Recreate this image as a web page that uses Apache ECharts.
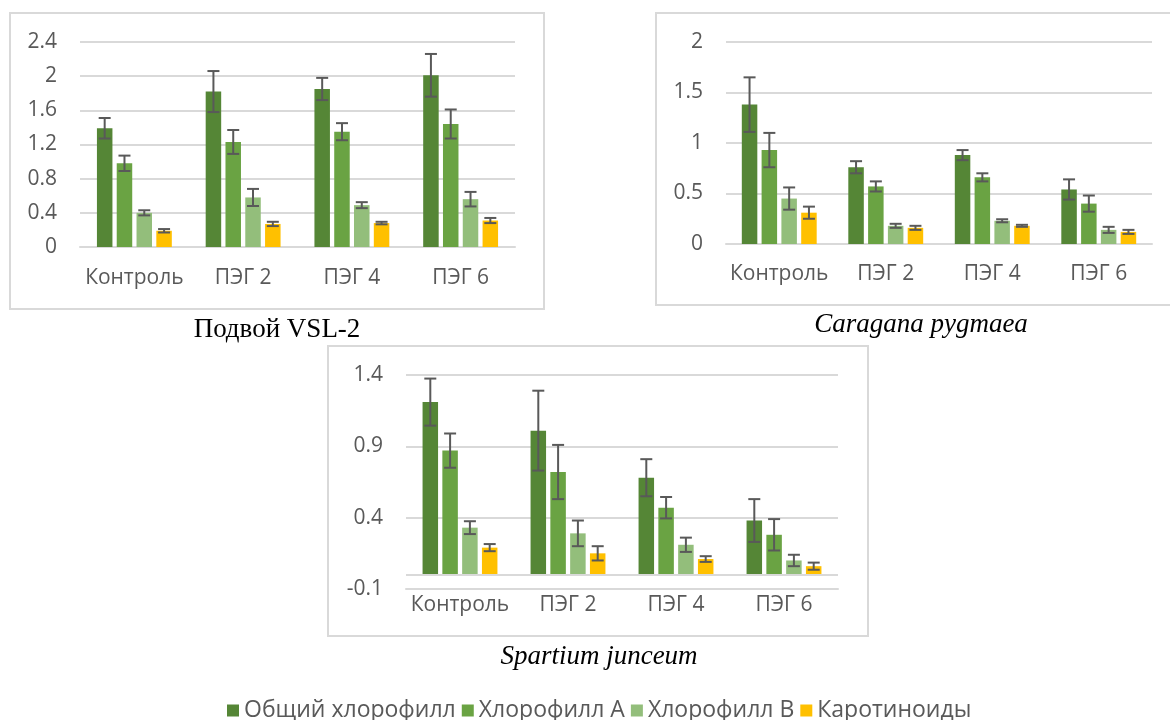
<!DOCTYPE html>
<html>
<head>
<meta charset="utf-8">
<script src="https://cdn.jsdelivr.net/npm/echarts@6.0.0/dist/echarts.min.js"></script>
<style>
  html, body { margin: 0; padding: 0; background: #fff; }
  #chart { width: 1170px; height: 720px; }
</style>
</head>
<body>
<div id="chart"></div>
<script>
// категории и серии
const categories = ['Контроль', 'ПЭГ 2', 'ПЭГ 4', 'ПЭГ 6'];
const seriesNames = ['Общий хлорофилл', 'Хлорофилл А', 'Хлорофилл В', 'Каротиноиды'];
const colors = ['#558636', '#6aa343', '#93be7b', '#ffc000'];

// Подвой VSL-2
const vslTotal = [1.39, 1.82, 1.85, 2.01];
const vslA = [0.98, 1.23, 1.35, 1.44];
const vslB = [0.40, 0.58, 0.49, 0.56];
const vslCar = [0.19, 0.27, 0.28, 0.31];
const vslTotalErr = [0.12, 0.24, 0.13, 0.25];
const vslAErr = [0.09, 0.14, 0.10, 0.17];
const vslBErr = [0.03, 0.10, 0.035, 0.085];
const vslCarErr = [0.02, 0.025, 0.015, 0.03];

// Caragana pygmaea
const carTotal = [1.38, 0.76, 0.88, 0.54];
const carA = [0.93, 0.57, 0.66, 0.40];
const carB = [0.45, 0.18, 0.23, 0.14];
const carCar = [0.31, 0.16, 0.18, 0.12];
const carTotalErr = [0.27, 0.06, 0.05, 0.10];
const carAErr = [0.17, 0.05, 0.04, 0.08];
const carBErr = [0.11, 0.02, 0.015, 0.03];
const carCarErr = [0.06, 0.02, 0.01, 0.02];

// Spartium junceum
const spTotal = [1.21, 1.01, 0.68, 0.38];
const spA = [0.87, 0.72, 0.47, 0.28];
const spB = [0.33, 0.29, 0.21, 0.10];
const spCar = [0.19, 0.15, 0.11, 0.06];
const spTotalErr = [0.165, 0.28, 0.13, 0.15];
const spAErr = [0.12, 0.19, 0.075, 0.11];
const spBErr = [0.045, 0.09, 0.05, 0.04];
const spCarErr = [0.025, 0.05, 0.02, 0.025];

// оси Y
const yTicks1 = { min: 0, max: 2.4, interval: 0.4 };
const yTicks2 = { min: 0, max: 2, interval: 0.5 };
const yTicks3 = { min: -0.1, max: 1.4, interval: 0.5 };

const panels = [
  { vals: [vslTotal, vslA, vslB, vslCar], errs: [vslTotalErr, vslAErr, vslBErr, vslCarErr], y: yTicks1,
    grid: { left: 80, top: 42, width: 435, height: 205 }, labelMargin: 21 },
  { vals: [carTotal, carA, carB, carCar], errs: [carTotalErr, carAErr, carBErr, carCarErr], y: yTicks2,
    grid: { left: 726, top: 42, width: 426, height: 202 }, labelMargin: 20 },
  { vals: [spTotal, spA, spB, spCar], errs: [spTotalErr, spAErr, spBErr, spCarErr], y: yTicks3,
    grid: { left: 406, top: 375, width: 432, height: 214 }, labelMargin: 6 }
];

const BAR_W = 15.5;
const BAR_GAP = 4.3;
const textColor = '#595959';
const lineColor = '#d9d9d9';
const font = '"Open Sans", sans-serif';

var myChart = echarts.init(document.getElementById('chart'), null, { renderer: 'canvas' });

const grids = [], xAxes = [], yAxes = [], series = [];

panels.forEach(function (p, gi) {
  grids.push(p.grid);
  xAxes.push({
    type: 'category', gridIndex: gi, data: categories,
    axisLine: { show: true, onZero: false, lineStyle: { color: lineColor, width: 2 } },
    axisTick: { show: false },
    axisLabel: { interval: 0, color: textColor, fontSize: 21, fontFamily: font, margin: p.labelMargin }
  });
  yAxes.push({
    type: 'value', gridIndex: gi, min: p.y.min, max: p.y.max, interval: p.y.interval,
    axisLine: { show: false }, axisTick: { show: false },
    splitLine: { lineStyle: { color: lineColor, width: 2 } },
    axisLabel: {
      color: textColor, fontSize: 21, fontFamily: font, margin: 23,
      formatter: function (v) { return String(+v.toFixed(2)); }
    }
  });

  p.vals.forEach(function (vals, si) {
    const s = {
      name: seriesNames[si], type: 'bar', xAxisIndex: gi, yAxisIndex: gi,
      data: vals, barWidth: BAR_W, barGap: (BAR_GAP / BAR_W * 100).toFixed(1) + '%',
      itemStyle: { color: colors[si] }, emphasis: { disabled: true }
    };
    if (gi === 2 && si === 0) {
      s.markLine = {
        silent: true, symbol: ['none', 'none'], label: { show: false },
        lineStyle: { color: lineColor, width: 2, type: 'solid' },
        data: [{ yAxis: 0 }]
      };
    }
    series.push(s);
  });

  // планки погрешностей
  const errData = [];
  p.vals.forEach(function (vals, si) {
    vals.forEach(function (v, ci) {
      errData.push([ci, si, v - p.errs[si][ci], v + p.errs[si][ci]]);
    });
  });
  series.push({
    name: 'err' + gi, type: 'custom', xAxisIndex: gi, yAxisIndex: gi, z: 10,
    encode: { x: 0, y: [2, 3] },
    data: errData,
    renderItem: function (params, api) {
      const ci = api.value(0), si = api.value(1);
      const total = 4 * BAR_W + 3 * BAR_GAP;
      const cx = api.coord([ci, 0])[0] - total / 2 + BAR_W / 2 + si * (BAR_W + BAR_GAP);
      const lo = api.coord([ci, api.value(2)])[1];
      const hi = api.coord([ci, api.value(3)])[1];
      const cap = 6;
      const st = { stroke: textColor, lineWidth: 2 };
      return {
        type: 'group',
        children: [
          { type: 'line', shape: { x1: cx, y1: lo, x2: cx, y2: hi }, style: st },
          { type: 'line', shape: { x1: cx - cap, y1: lo, x2: cx + cap, y2: lo }, style: st },
          { type: 'line', shape: { x1: cx - cap, y1: hi, x2: cx + cap, y2: hi }, style: st }
        ]
      };
    }
  });
});

const titleFont = '"Liberation Serif", "Times New Roman", serif';

option = {
  backgroundColor: '#fff',
  animation: false,
  grid: grids,
  xAxis: xAxes,
  yAxis: yAxes,
  legend: {
    data: seriesNames, left: 222, top: 694, icon: 'rect',
    itemWidth: 12, itemHeight: 12, itemGap: 6,
    textStyle: { color: textColor, fontSize: 23, fontFamily: font }
  },
  graphic: [
    { type: 'rect', shape: { x: 10, y: 13, width: 534, height: 296 }, style: { fill: 'none', stroke: lineColor, lineWidth: 2 }, silent: true },
    { type: 'rect', shape: { x: 656, y: 13, width: 530, height: 292 }, style: { fill: 'none', stroke: lineColor, lineWidth: 2 }, silent: true },
    { type: 'rect', shape: { x: 328, y: 346, width: 540, height: 290 }, style: { fill: 'none', stroke: lineColor, lineWidth: 2 }, silent: true },
    { type: 'text', x: 277, y: 330, style: { text: 'Подвой VSL-2', font: '27px ' + titleFont, fill: '#000', textAlign: 'center', textVerticalAlign: 'middle' } },
    { type: 'text', x: 921, y: 325, style: { text: 'Caragana pygmaea', font: 'italic 27px ' + titleFont, fill: '#000', textAlign: 'center', textVerticalAlign: 'middle' } },
    { type: 'text', x: 599, y: 657, style: { text: 'Spartium junceum', font: 'italic 27px ' + titleFont, fill: '#000', textAlign: 'center', textVerticalAlign: 'middle' } }
  ],
  series: series
};

myChart.setOption(option);
</script>
</body>
</html>
